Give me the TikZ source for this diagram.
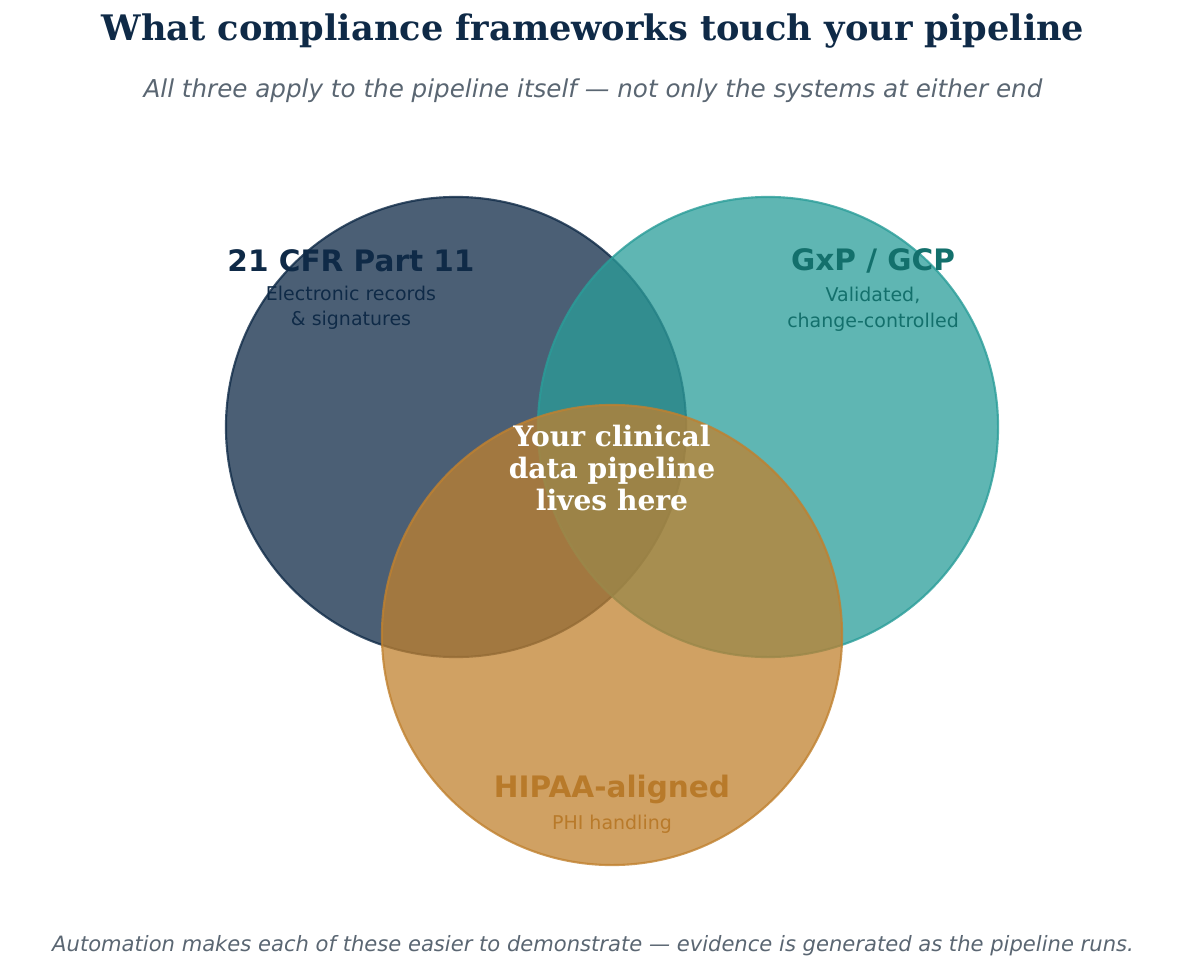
\documentclass[tikz,border=0pt]{standalone}
\usepackage{fontspec}
\setmainfont{DejaVu Sans}
\newfontfamily\serifbf{DejaVu Serif}
\usetikzlibrary{positioning}
\definecolor{navy}{HTML}{0F2A47}
\definecolor{teal}{HTML}{2A9D99}
\definecolor{amber}{HTML}{C0812F}
\definecolor{note}{HTML}{5A6672}
\definecolor{tealtxt}{HTML}{13706C}
\definecolor{ambertxt}{HTML}{B87A2A}
\begin{document}
\begin{tikzpicture}[x=0.025cm, y=-0.025cm,
  set/.style = {circle, minimum size = 11.5cm, line width = 1.5pt, fill opacity = 0.75, draw opacity = 0.8},
  head/.style = {font = \fontsize{21}{24}\selectfont\bfseries},
  sub/.style = {font = \fontsize{13.5}{18}\selectfont, align = center},
  note/.style = {font = \fontsize{15}{18}\selectfont\itshape, text = note}]
  \useasboundingbox (0,0) rectangle (1200,971);

  \node[set, fill = navy, draw = navy] (cfr) at (456,427) {};
  \node[set, fill = teal, draw = teal] (gxp) at (768,427) {};
  \node[set, fill = amber, draw = amber] (hipaa) at (612,635) {};

  \node[font = \serifbf\fontsize{25}{30}\selectfont\bfseries, text = navy] (title) at (593,31) {What compliance frameworks touch your pipeline};
  \node[note, font = \fontsize{17.5}{20}\selectfont\itshape] (subtitle) at (593,91) {All three apply to the pipeline itself --- not only the systems at either end};

  \node[head, text = navy] (cfrhead) at (351,261) {21 CFR Part 11};
  \node[sub, text = navy, below = 0.1cm of cfrhead] (cfrsub) {Electronic records\\\& signatures};
  \node[head, text = tealtxt] (gxphead) at (873,261) {GxP / GCP};
  \node[sub, text = tealtxt, below = 0.1cm of gxphead] (gxpsub) {Validated,\\change-controlled};
  \node[head, text = ambertxt] (hipaahead) at (612,789) {HIPAA-aligned};
  \node[sub, text = ambertxt, below = 0.05cm of hipaahead] (hipaasub) {PHI handling};

  \node[font = \serifbf\fontsize{20}{23}\selectfont\bfseries, text = white, align = center] (core) at (612,468) {Your clinical\\data pipeline\\lives here};

  \node[note] (footer) at (593,946) {Automation makes each of these easier to demonstrate --- evidence is generated as the pipeline runs.};
\end{tikzpicture}
\end{document}
